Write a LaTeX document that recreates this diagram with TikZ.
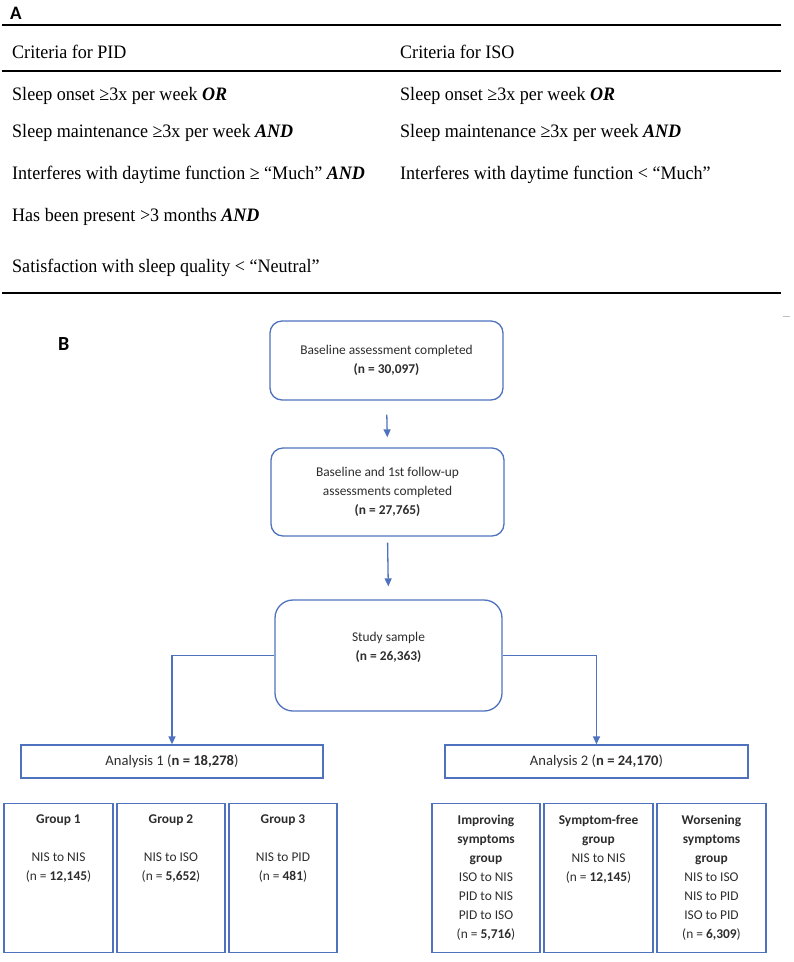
\documentclass[tikz,border=0pt]{standalone}
\usepackage{fontspec}
\setmainfont{Liberation Serif}[FakeStretch=0.95]
\newfontfamily\calib{Carlito}
\usetikzlibrary{arrows.meta,calc}
\definecolor{bblue}{RGB}{79,114,190}
\definecolor{tgray}{RGB}{45,45,45}
\begin{document}
\begin{tikzpicture}[x=1pt,y=-1pt,
  tA/.style={anchor=base west, inner sep=0, font=\fontsize{19}{22}\selectfont},
  panel/.style={anchor=base west, inner sep=0, font=\calib\bfseries\fontsize{19}{22}\selectfont},
  rule/.style={line width=1.8pt},
  rbox/.style={draw=bblue, line width=1.3pt, rounded corners=12pt, align=center, inner sep=0,
     font=\calib\fontsize{13.4}{19}\selectfont, text=tgray},
  sbox/.style={draw=bblue, line width=1.3pt, align=center, inner sep=0,
     font=\calib\fontsize{13.4}{19}\selectfont, text=tgray},
  gtext/.style={anchor=north, align=center, inner sep=0,
     font=\calib\fontsize{13.4}{19}\selectfont, text=tgray},
  conn/.style={draw=bblue, line width=1.3pt, -{Triangle[width=7pt,length=8pt]}}
]
\useasboundingbox (0,0) rectangle (794,962);
% ---------- Panel A ----------
\node[panel] (lA) at (10,19.3) {A};
\draw[rule] (2,25) -- (781,25);
\draw[rule] (2,71) -- (781,71);
\draw[rule] (2,293) -- (781,293);
\node[tA] (h1) at (12,58.3) {Criteria for PID};
\node[tA] (h2) at (400,58.3) {Criteria for ISO};
\node[tA] (p1) at (12,100.7) {Sleep onset ≥3x per week \textbf{\textit{OR}}};
\node[tA] (p2) at (12,137.7) {Sleep maintenance ≥3x per week \textbf{\textit{AND}}};
\node[tA] (p3) at (12,179.3) {Interferes with daytime function ≥ “Much” \textbf{\textit{AND}}};
\node[tA] (p4) at (12,221.7) {Has been present >3 months \textbf{\textit{AND}}};
\node[tA] (p5) at (12,272.3) {Satisfaction with sleep quality < “Neutral”};
\node[tA] (i1) at (400,100.7) {Sleep onset ≥3x per week \textbf{\textit{OR}}};
\node[tA] (i2) at (400,137.7) {Sleep maintenance ≥3x per week \textbf{\textit{AND}}};
\node[tA] (i3) at (400,179.3) {Interferes with daytime function < “Much”};
% ---------- Panel B ----------
\node[panel, font=\calib\bfseries\fontsize{20}{22}\selectfont] (lB) at (58,350) {B};
\draw[gray!50, line width=1pt] (783,316) -- (790,316);
\node[rbox, minimum width=233pt, minimum height=79pt] (b1) at (386.5,360.5)
  {Baseline assessment completed\\\textbf{(n = 30,097)}};
\node[rbox, minimum width=233pt, minimum height=88pt] (b2) at (387.5,492)
  {Baseline and 1st follow-up\\assessments completed\\\textbf{(n = 27,765)}};
\node[rbox, rounded corners=18pt, minimum width=227pt, minimum height=111pt] (b3) at (388.5,655.5)
  {Study sample\\\textbf{(n = 26,363)}\\~};
\node[sbox, minimum width=302pt, minimum height=33pt, font=\calib\fontsize{14.6}{19}\selectfont] (a1) at (172,761.5)
  {Analysis 1 (\textbf{n = 18,278})};
\node[sbox, minimum width=303pt, minimum height=33pt, font=\calib\fontsize{14.6}{19}\selectfont] (a2) at (596.5,761.5)
  {Analysis 2 (\textbf{n = 24,170})};
% group boxes
\node[sbox, anchor=north, minimum width=109pt, minimum height=149pt] (g1) at (58.5,803) {};
\node[sbox, anchor=north, minimum width=108pt, minimum height=149pt] (g2) at (171,803) {};
\node[sbox, anchor=north, minimum width=108pt, minimum height=149pt] (g3) at (283,803) {};
\node[sbox, anchor=north, minimum width=108pt, minimum height=149pt] (r1) at (486,803) {};
\node[sbox, anchor=north, minimum width=109pt, minimum height=149pt] (r2) at (598.5,803) {};
\node[sbox, anchor=north, minimum width=109pt, minimum height=149pt] (r3) at (711.5,803) {};
\node[gtext] (g1t) at ($(g1.north)+(0,11.5)$) {\textbf{Group 1}\\~\\NIS to NIS\\(n = \textbf{12,145})};
\node[gtext] (g2t) at ($(g2.north)+(0,11.5)$) {\textbf{Group 2}\\~\\NIS to ISO\\(n = \textbf{5,652})};
\node[gtext] (g3t) at ($(g3.north)+(0,11.5)$) {\textbf{Group 3}\\~\\NIS to PID\\(n = \textbf{481})};
\node[gtext] (r1t) at ($(r1.north)+(0,11.5)$) {\textbf{Improving}\\\textbf{symptoms}\\\textbf{group}\\ISO to NIS\\PID to NIS\\PID to ISO\\(n = \textbf{5,716})};
\node[gtext] (r2t) at ($(r2.north)+(0,11.5)$) {\textbf{Symptom-free}\\\textbf{group}\\NIS to NIS\\(n = \textbf{12,145})};
\node[gtext] (r3t) at ($(r3.north)+(0,11.5)$) {\textbf{Worsening}\\\textbf{symptoms}\\\textbf{group}\\NIS to ISO\\NIS to PID\\ISO to PID\\(n = \textbf{6,309})};
% connectors
\draw[conn, shorten <=14pt, shorten >=10pt] (b1.south) -- (b2.north);
\draw[conn, shorten <=6pt, shorten >=13pt] (b2.south) -- (b3.north);
\draw[conn] (b3.west) -| (a1.north);
\draw[conn] (b3.east) -| (a2.north);
\end{tikzpicture}
\end{document}
